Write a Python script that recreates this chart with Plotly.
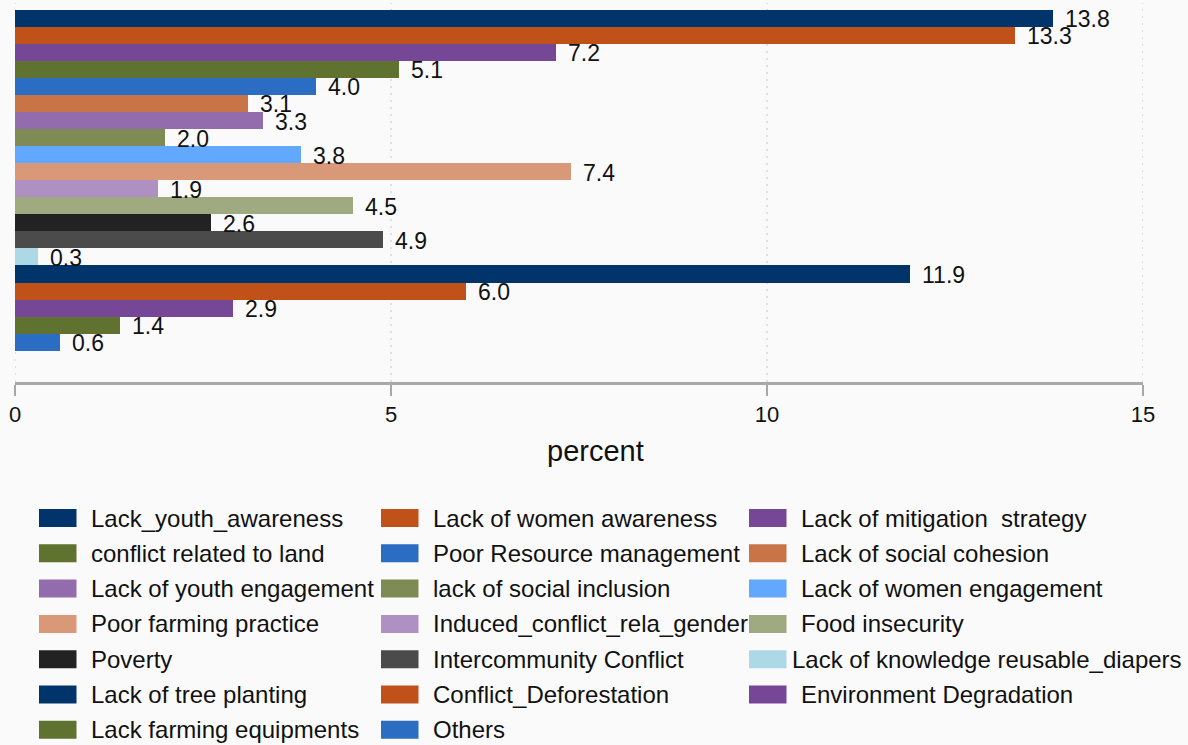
import plotly.graph_objects as go

# Problem categories, shares (percent) and bar colours, top to bottom
categories = [
    "Lack_youth_awareness", "Lack of women awareness", "Lack of mitigation  strategy",
    "conflict related to land", "Poor Resource management", "Lack of social cohesion",
    "Lack of youth engagement", "lack of social inclusion", "Lack of women engagement",
    "Poor farming practice", "Induced_conflict_rela_gender", "Food insecurity",
    "Poverty", "Intercommunity Conflict", "Lack of knowledge reusable_diapers",
    "Lack of tree planting", "Conflict_Deforestation", "Environment Degradation",
    "Lack farming equipments", "Others",
]
percent = [13.8, 13.3, 7.2, 5.1, 4.0, 3.1, 3.3, 2.0, 3.8, 7.4,
           1.9, 4.5, 2.6, 4.9, 0.3, 11.9, 6.0, 2.9, 1.4, 0.6]
colors = [
    "#01346B", "#BF5119", "#774797", "#5F722F", "#2A6DC2",
    "#C87447", "#936CAE", "#7E8B55", "#62A8FF", "#D99877",
    "#AE91C2", "#9FAA81", "#222222", "#4B4B4B", "#ADD8E6",
    "#01346B", "#BF5119", "#774797", "#5F722F", "#2A6DC2",
]
x_ticks = [0, 5, 10, 15]

FONT = "Liberation Sans, Arial, sans-serif"
INK = "#111111"
BG = "#FAFAFA"
W, H = 1188, 745
M_L, M_R, M_T, M_B = 15, 45, 3, 363
PW, PH = W - M_L - M_R, H - M_T - M_B


def px_x(px):
    return (px - M_L) / PW


def px_y(py):
    return (H - M_B - py) / PH


fig = go.Figure()
fig.add_trace(go.Bar(
    x=percent, y=categories, orientation="h",
    marker=dict(color=colors, line=dict(width=0)),
    showlegend=False, hoverinfo="x+y",
))

shapes = []
annotations = []

# dotted vertical grid at every x tick, including the left edge
for t in x_ticks:
    shapes.append(dict(
        type="line", xref="x", yref="paper", x0=t, x1=t, y0=0, y1=1,
        line=dict(color="#C4C4C4", width=1, dash="2px,5px"), layer="below",
    ))

# value labels just right of each bar end
for cat, val in zip(categories, percent):
    annotations.append(dict(
        x=val, y=cat, xref="x", yref="y", text=f"{val:.1f}",
        showarrow=False, xanchor="left", yanchor="middle",
        xshift=10, yshift=-1, font=dict(family=FONT, size=23, color=INK),
    ))

# axis title
annotations.append(dict(
    x=px_x(595), y=px_y(451), xref="paper", yref="paper", text="percent",
    showarrow=False, xanchor="center", yanchor="middle",
    font=dict(family=FONT, size=29, color=INK),
))

# legend drawn as a three-column grid of swatches and labels
row0, row_step = 518, 35.3
col_swatch = [39, 381, 749]
col_text = [89, 431, 799]
sw_w, sw_h = 37.5, 18

for i, (name, col) in enumerate(zip(categories, colors)):
    r, c = divmod(i, 3)
    cy = row0 + r * row_step
    x0 = col_swatch[c]
    shapes.append(dict(
        type="rect", xref="paper", yref="paper",
        x0=px_x(x0), x1=px_x(x0 + sw_w),
        y0=px_y(cy + sw_h / 2), y1=px_y(cy - sw_h / 2),
        fillcolor=col, line=dict(width=0), layer="above",
    ))
    tx = col_text[c] - (9 if len(name) > 30 else 0)
    annotations.append(dict(
        x=px_x(tx), y=px_y(cy), xref="paper", yref="paper",
        text=name, showarrow=False, xanchor="left", yanchor="middle",
        font=dict(family=FONT, size=24, color=INK),
    ))

fig.update_layout(
    width=W, height=H,
    margin=dict(l=M_L, r=M_R, t=M_T, b=M_B, pad=0),
    paper_bgcolor=BG, plot_bgcolor=BG,
    bargap=0,
    font=dict(family=FONT, size=22, color=INK),
    xaxis=dict(
        range=[0, 15], tickvals=x_ticks, ticktext=[str(t) for t in x_ticks],
        showgrid=False, zeroline=False,
        showline=True, linecolor="#A8A8A8", linewidth=2.5,
        ticks="outside", ticklen=11, tickwidth=1.5, tickcolor="#A8A8A8",
        tickfont=dict(family=FONT, size=22, color=INK),
    ),
    yaxis=dict(
        type="category", range=[21.336, -0.893],
        showticklabels=False, showgrid=False, zeroline=False, showline=False, ticks="",
    ),
    annotations=annotations,
    shapes=shapes,
)

fig.write_html("out.html")
